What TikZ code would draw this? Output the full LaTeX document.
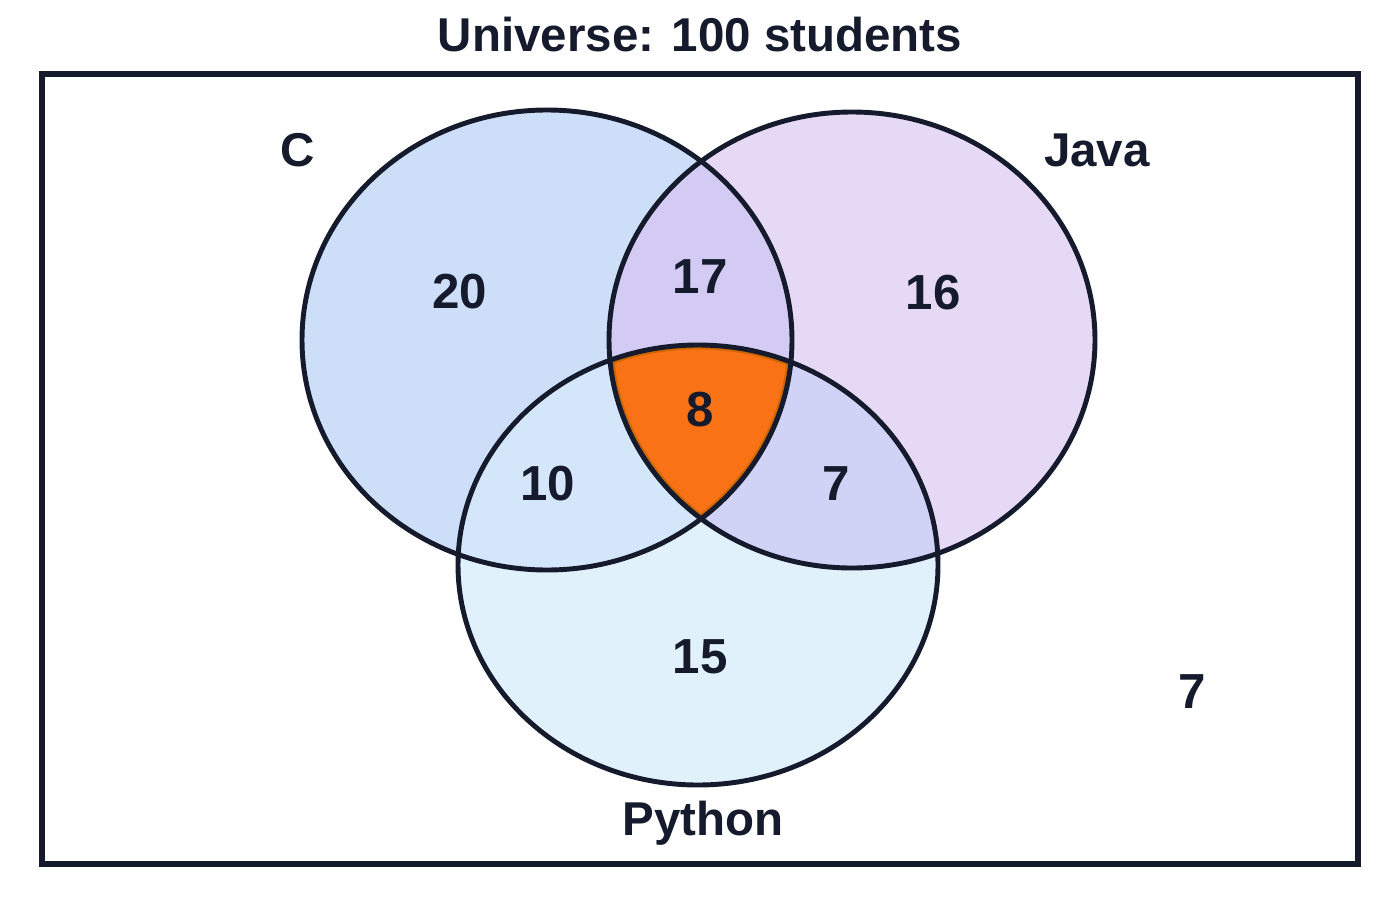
\documentclass[tikz,border=0pt]{standalone}
\usepackage{fontspec}
\setmainfont{Liberation Sans}
\definecolor{cfill}{HTML}{CDDFF8}
\definecolor{jfill}{HTML}{E6D9F6}
\definecolor{pfill}{HTML}{E0F1FB}
\definecolor{cjfill}{HTML}{D3CBF3}
\definecolor{cpfill}{HTML}{D4E6F9}
\definecolor{jpfill}{HTML}{D0D2F6}
\definecolor{allfill}{HTML}{F97316}
\definecolor{ink}{HTML}{151B2C}
\begin{document}
\begin{tikzpicture}[x=0.01cm,y=-0.01cm,
    num/.style={text=ink,font=\fontsize{14}{16}\selectfont\bfseries},
    setlabel/.style={text=ink,font=\fontsize{13.5}{16}\selectfont\bfseries}]
  \useasboundingbox (0,0) rectangle (1400,900);
  \def\setC{(547,340) ellipse [x radius=245,y radius=230]}
  \def\setJ{(852,340) ellipse [x radius=243,y radius=228]}
  \def\setP{(698,565) ellipse [x radius=240,y radius=220]}

  % regions
  \fill[cfill] \setC;
  \fill[jfill] \setJ;
  \fill[pfill] \setP;
  \begin{scope}\clip \setC; \fill[cjfill] \setJ; \end{scope}
  \begin{scope}\clip \setC; \fill[cpfill] \setP; \end{scope}
  \begin{scope}\clip \setJ; \fill[jpfill] \setP; \end{scope}
  \begin{scope}\clip \setC; \clip \setJ; \clip \setP;
    \fill[allfill] \setP;
    \draw[orange!80!black,line width=2.5pt] \setP;
    \draw[orange!80!black,line width=2.5pt] \setC;
    \draw[orange!80!black,line width=2.5pt] \setJ;
  \end{scope}

  % outlines
  \draw[ink,line width=1.4pt] \setC;
  \draw[ink,line width=1.4pt] \setJ;
  \draw[ink,line width=1.4pt] \setP;
  \draw[ink,line width=1.8pt] (42,74) rectangle (1358,864);

  % texts
  \node[setlabel] (title) at (700,35) {Universe: 100 students};
  \node[setlabel] (c) at (298,150) {C};
  \node[setlabel] (java) at (1097,150) {Java};
  \node[setlabel] (python) at (703,823) {Python};
  \node[num] (n20) at (460,292) {20};
  \node[num] (n17) at (700,277) {17};
  \node[num] (n16) at (933,293) {16};
  \node[num] (n8) at (700,410) {8};
  \node[num] (n10) at (548,484) {10};
  \node[num] (n7a) at (836,484) {7};
  \node[num] (n15) at (700,657) {15};
  \node[num] (n7b) at (1192,692) {7};
\end{tikzpicture}
\end{document}
